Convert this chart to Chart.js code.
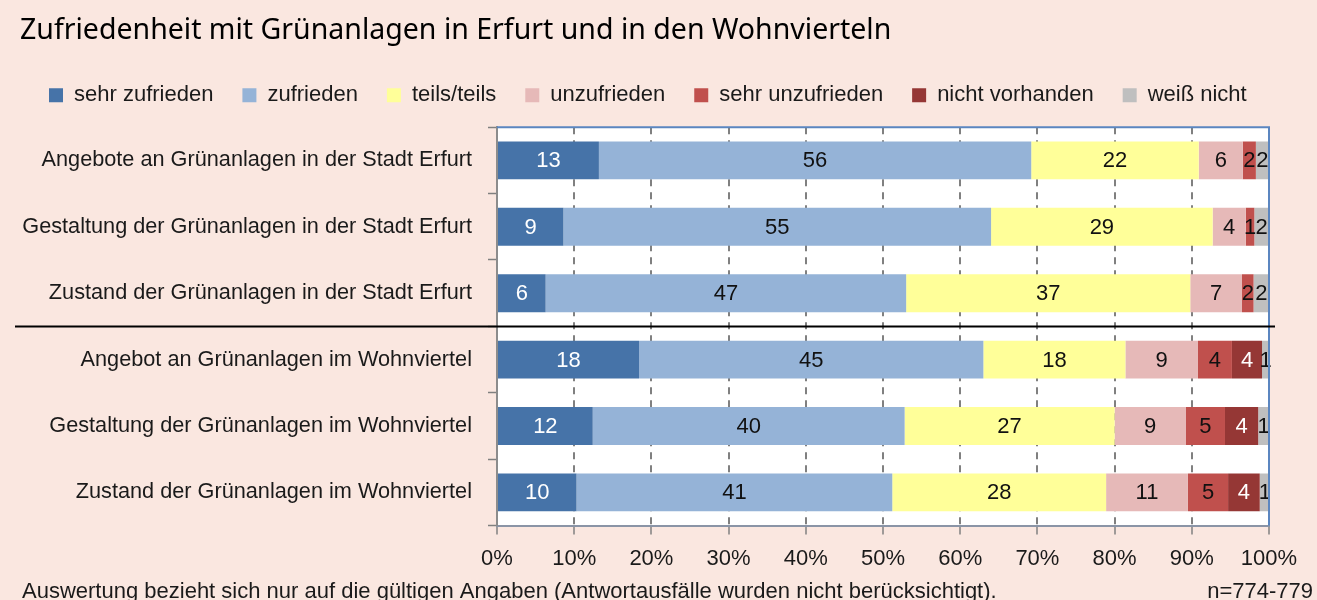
<!DOCTYPE html>
<html>
<head>
<meta charset="utf-8">
<script src="https://cdn.jsdelivr.net/npm/chart.js@4.4.0/dist/chart.umd.min.js"></script>
<style>
  html, body { margin: 0; padding: 0; background: #FAE7E0; }
  #wrap { width: 1317px; height: 600px; position: relative; }
</style>
</head>
<body>
<div id="wrap"><canvas id="gruenChart" width="1317" height="600"></canvas></div>
<script>
var categories = [
  "Angebote an Grünanlagen in der Stadt Erfurt",
  "Gestaltung der Grünanlagen in der Stadt Erfurt",
  "Zustand der Grünanlagen in der Stadt Erfurt",
  "Angebot an Grünanlagen im Wohnviertel",
  "Gestaltung der Grünanlagen im Wohnviertel",
  "Zustand der Grünanlagen im Wohnviertel"
];
var seriesNames = ["sehr zufrieden", "zufrieden", "teils/teils", "unzufrieden", "sehr unzufrieden", "nicht vorhanden", "weiß nicht"];
var sehrZufrieden   = [13.2, 8.6, 6.3, 18.4, 12.4, 10.3];
var zufrieden       = [56.0, 55.4, 46.7, 44.6, 40.4, 40.9];
var teilsTeils      = [21.7, 28.7, 36.8, 18.4, 27.2, 27.7];
var unzufrieden     = [5.7, 4.3, 6.7, 9.4, 9.2, 10.6];
var sehrUnzufrieden = [1.7, 1.1, 1.5, 4.4, 5.1, 5.2];
var nichtVorhanden  = [0, 0, 0, 3.9, 4.3, 4.1];
var weissNicht      = [1.7, 1.9, 2.0, 0.9, 1.4, 1.3];
var xTicks = [0, 10, 20, 30, 40, 50, 60, 70, 80, 90, 100];

var colors = ["#4673A8", "#95B3D7", "#FFFF99", "#E6B9B8", "#C0504D", "#953735", "#BFBFBF"];
var labelColors = ["#ffffff", "#111111", "#111111", "#111111", "#111111", "#ffffff", "#111111"];
var values = [sehrZufrieden, zufrieden, teilsTeils, unzufrieden, sehrUnzufrieden, nichtVorhanden, weissNicht];

var FONT = "'Liberation Sans', Arial, sans-serif";

var datasets = seriesNames.map(function (name, i) {
  return {
    label: name,
    data: values[i],
    xAxisID: "x",
    yAxisID: "y",
    backgroundColor: colors[i],
    borderWidth: 0,
    barPercentage: 0.9,
    categoryPercentage: 0.635
  };
});

// white plot area, frame lines, separator, bar labels, footer
var extras = {
  id: "extras",
  beforeDraw: function (chart) {
    var a = chart.chartArea, ctx = chart.ctx;
    ctx.save();
    ctx.fillStyle = "#ffffff";
    ctx.fillRect(a.left, a.top, a.right - a.left, a.bottom - a.top);
    ctx.restore();
  },
  afterDatasetsDraw: function (chart) {
    var ctx = chart.ctx, a = chart.chartArea;
    ctx.save();
    ctx.font = "22px " + FONT;
    ctx.textAlign = "center";
    ctx.textBaseline = "middle";
    chart.data.datasets.forEach(function (ds, i) {
      var meta = chart.getDatasetMeta(i);
      meta.data.forEach(function (bar, j) {
        var v = ds.data[j];
        if (!v) return;
        ctx.fillStyle = labelColors[i];
        ctx.fillText(String(Math.round(v)), (bar.x + bar.base) / 2, bar.y + 1);
      });
    });
    // blue frame top and right
    ctx.strokeStyle = "#5B86C0";
    ctx.lineWidth = 2;
    ctx.beginPath();
    ctx.moveTo(a.left, a.top);
    ctx.lineTo(a.right, a.top);
    ctx.lineTo(a.right, a.bottom);
    ctx.stroke();
    // separator between city and district questions
    var ySep = chart.scales.y.getPixelForValue(2.5);
    ctx.strokeStyle = "#000000";
    ctx.lineWidth = 2;
    ctx.beginPath();
    ctx.moveTo(15, ySep);
    ctx.lineTo(1275, ySep);
    ctx.stroke();
    ctx.restore();
  },
  afterDraw: function (chart) {
    var ctx = chart.ctx;
    ctx.save();
    ctx.font = "22px " + FONT;
    ctx.fillStyle = "#1a1a1a";
    ctx.textBaseline = "alphabetic";
    ctx.textAlign = "left";
    ctx.fillText("Auswertung bezieht sich nur auf die gültigen Angaben (Antwortausfälle wurden nicht berücksichtigt).", 22, 598);
    ctx.textAlign = "right";
    ctx.fillText("n=774-779", 1313, 598);
    ctx.restore();
  }
};

new Chart("gruenChart", {
  type: "bar",
  data: { labels: categories, datasets: datasets },
  options: {
    indexAxis: "y",
    responsive: false,
    animation: false,
    layout: { padding: { left: 20, right: 0, top: 0, bottom: 17 } },
    plugins: {
      title: {
        display: true,
        text: "Zufriedenheit mit Grünanlagen in Erfurt und in den Wohnvierteln",
        align: "start",
        color: "#000000",
        font: { family: "'Noto Sans', sans-serif", size: 28.5, weight: "normal", lineHeight: 1.2 },
        padding: { top: 14, bottom: 7 }
      },
      legend: {
        display: true,
        align: "start",
        labels: {
          boxWidth: 14,
          boxHeight: 14,
          padding: 29,
          color: "#1a1a1a",
          font: { family: FONT, size: 22 }
        }
      },
      tooltip: { enabled: false }
    },
    scales: {
      x: {
        type: "linear",
        position: "bottom",
        stacked: true,
        min: 0,
        max: 100,
        afterBuildTicks: function (scale) {
          scale.ticks = xTicks.map(function (v) { return { value: v }; });
        },
        ticks: {
          color: "#1a1a1a",
          font: { family: FONT, size: 22 },
          padding: 11,
          maxRotation: 0,
          callback: function (v) { return v + "%"; }
        },
        grid: {
          color: function (c) { return (c.tick && (c.tick.value === 0 || c.tick.value === 100)) ? "rgba(0,0,0,0)" : "#808080"; },
          lineWidth: 2,
          tickLength: 9,
          tickColor: "#808080",
          tickWidth: 1.5
        },
        border: { color: "#8a94a6", width: 2, dash: [7, 6] }
      },
      y: {
        type: "category",
        position: "left",
        stacked: true,
        afterFit: function (scale) { scale.width = 477; },
        ticks: {
          color: "#1a1a1a",
          font: { family: FONT, size: 21.7 },
          padding: 16
        },
        grid: {
          offset: true,
          drawOnChartArea: false,
          tickLength: 9,
          tickColor: "#808080",
          tickWidth: 1.5
        },
        border: { color: "#8c8c8c", width: 2 }
      },
      // spacer between legend and plot area
      xTop: {
        type: "linear",
        axis: "x",
        position: "top",
        display: true,
        ticks: { display: false },
        grid: { display: false, drawTicks: false },
        border: { display: false },
        afterFit: function (scale) { scale.height = 11; }
      },
      // spacer right of plot area
      yRight: {
        type: "category",
        axis: "y",
        position: "right",
        display: true,
        ticks: { display: false },
        grid: { display: false, drawTicks: false },
        border: { display: false },
        afterFit: function (scale) { scale.width = 48; }
      }
    }
  },
  plugins: [extras]
});
</script>
</body>
</html>
